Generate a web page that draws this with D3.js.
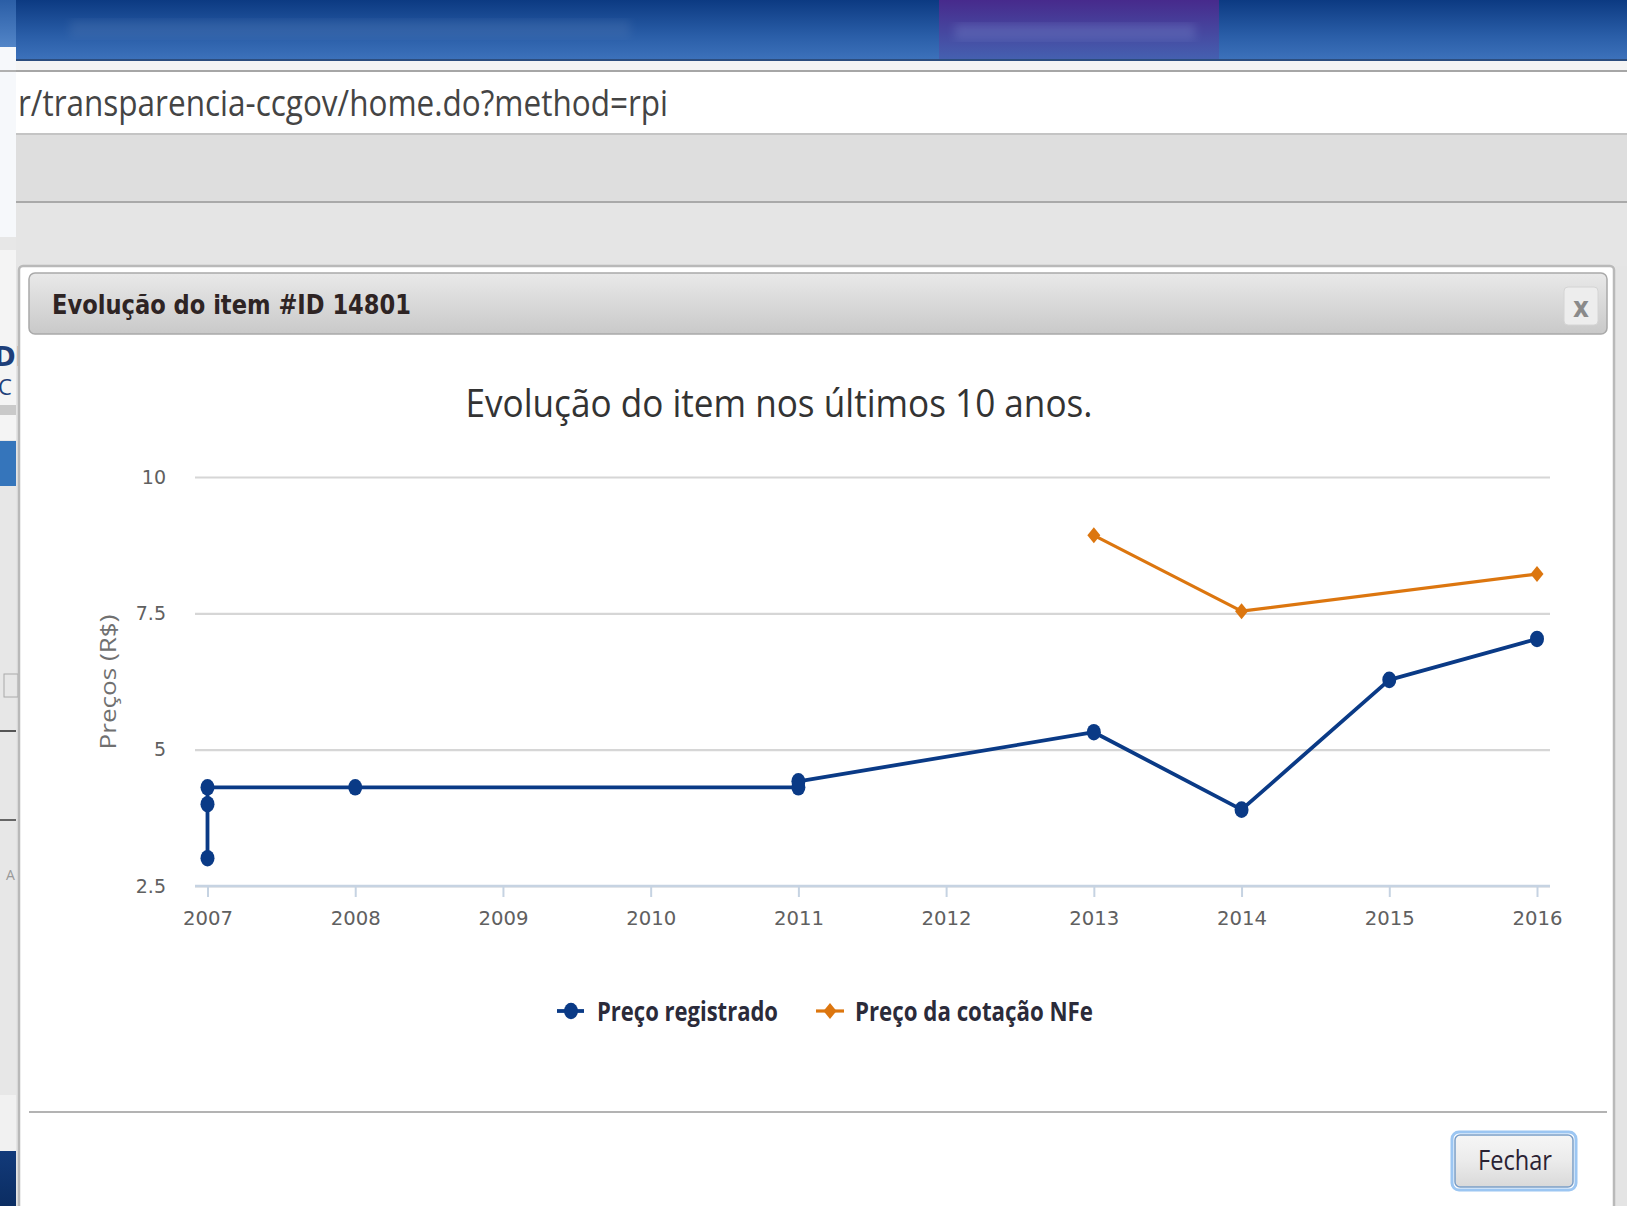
<!DOCTYPE html>
<html lang="pt">
<head>
<meta charset="UTF-8">
<title>Evolução do item</title>
<script src="https://d3js.org/d3.v7.min.js"></script>
<style>
    body { margin: 0; padding: 0; background: #e4e4e4; }
    svg { display: block; }
    .axis text { font-family: "DejaVu Sans", Verdana, sans-serif; fill: #606060; }
</style>
</head>
<body>
<div id="page"></div>
<script>
// ---- data ----
const years = [2007, 2008, 2009, 2010, 2011, 2012, 2013, 2014, 2015, 2016];
const yTicks = [2.5, 5, 7.5, 10];
const registradoAno = [2007, 2007, 2007, 2008, 2011, 2011, 2013, 2014, 2015, 2016];
const registradoPreco = [3.01, 4.0, 4.31, 4.31, 4.31, 4.42, 5.32, 3.9, 6.28, 7.03];
const cotacaoAno = [2013, 2014, 2016];
const cotacaoPreco = [8.93, 7.54, 8.22];
const seriesNames = ["Preço registrado", "Preço da cotação NFe"];
const seriesColors = ["#0a3a86", "#dc760f"];

const W = 1627, H = 1206;
const svg = d3.select('#page').append('svg').attr('width', W).attr('height', H);
const defs = svg.append('defs');

function grad(id, stops) {
    const g = defs.append('linearGradient').attr('id', id)
        .attr('x1', 0).attr('y1', 0).attr('x2', 0).attr('y2', 1);
    stops.forEach(s => g.append('stop').attr('offset', s[0]).attr('stop-color', s[1]));
}
grad('gTop', [[0, '#0c3a82'], [0.6, '#2a5ea8'], [1, '#3d72bb']]);
grad('gTab', [[0, '#472a8c'], [1, '#4560b0']]);
grad('gLeftTop', [[0, '#2b5ea6'], [1, '#5285c8']]);
grad('gBar', [[0, '#e9e9e9'], [1, '#c9c9c9']]);
grad('gBtn', [[0, '#f6f6f6'], [0.5, '#ebebeb'], [1, '#d9d9d9']]);
grad('gBottom', [[0, '#123a7a'], [1, '#0b2d62']]);
defs.append('filter').attr('id', 'blur').append('feGaussianBlur').attr('stdDeviation', 5);

// squeezed text helper (the screenshot is narrower than normal fonts)
function text(g, x, y, str, size, len, opts = {}) {
    const t = g.append('text')
        .attr('x', x).attr('y', y)
        .attr('font-family', opts.family || '"Open Sans", sans-serif')
        .attr('font-size', size)
        .attr('font-weight', opts.weight || 'normal')
        .attr('fill', opts.fill || '#333')
        .attr('text-anchor', opts.anchor || 'start')
        .text(str);
    if (len) t.attr('textLength', len).attr('lengthAdjust', 'spacingAndGlyphs');
    return t;
}

// ---- browser chrome ----
svg.append('rect').attr('x', 0).attr('y', 0).attr('width', W).attr('height', H).attr('fill', '#e4e4e4');
svg.append('rect').attr('x', 16).attr('y', 0).attr('width', W - 16).attr('height', 60).attr('fill', 'url(#gTop)');
svg.append('rect').attr('x', 939).attr('y', 0).attr('width', 280).attr('height', 59).attr('fill', 'url(#gTab)');
svg.append('rect').attr('x', 70).attr('y', 20).attr('width', 560).attr('height', 18).attr('fill', '#5b7fb5')
    .attr('opacity', 0.25).attr('filter', 'url(#blur)');
svg.append('rect').attr('x', 955).attr('y', 24).attr('width', 240).attr('height', 16).attr('fill', '#7f8fd0')
    .attr('opacity', 0.3).attr('filter', 'url(#blur)');
svg.append('rect').attr('x', 16).attr('y', 59).attr('width', W).attr('height', 2).attr('fill', '#2c4d7e');
svg.append('rect').attr('x', 16).attr('y', 61).attr('width', W).attr('height', 9).attr('fill', '#f4f4f4');
svg.append('rect').attr('x', 16).attr('y', 70).attr('width', W).attr('height', 2).attr('fill', '#a6a6a6');
svg.append('rect').attr('x', 16).attr('y', 72).attr('width', W).attr('height', 61).attr('fill', '#ffffff');
text(svg, 18, 116, 'r/transparencia-ccgov/home.do?method=rpi', 36, 650, { fill: '#444' });
svg.append('rect').attr('x', 16).attr('y', 133).attr('width', W).attr('height', 2).attr('fill', '#c4c4c4');
svg.append('rect').attr('x', 16).attr('y', 135).attr('width', W).attr('height', 66).attr('fill', '#dedede');
svg.append('rect').attr('x', 16).attr('y', 201).attr('width', W).attr('height', 2).attr('fill', '#a9a9a9');
svg.append('rect').attr('x', 16).attr('y', 203).attr('width', W).attr('height', 63).attr('fill', '#e5e5e5');

// left strip (other window showing through)
const left = svg.append('g');
left.append('rect').attr('x', 0).attr('y', 0).attr('width', 16).attr('height', 47).attr('fill', 'url(#gLeftTop)');
left.append('rect').attr('x', 0).attr('y', 47).attr('width', 16).attr('height', 190).attr('fill', '#f6f8fb');
left.append('rect').attr('x', 0).attr('y', 70).attr('width', 16).attr('height', 2).attr('fill', '#b0b0b0');
left.append('rect').attr('x', 0).attr('y', 237).attr('width', 16).attr('height', 858).attr('fill', '#e7e7e7');
left.append('rect').attr('x', 0).attr('y', 250).attr('width', 16).attr('height', 190).attr('fill', '#f4f4f4');
text(left, -6, 366, 'DI', 26, null, { weight: 'bold', fill: '#1d3f7a', family: '"DejaVu Sans", sans-serif' });
text(left, -2, 395, 'C', 22, null, { fill: '#1d3f7a' });
left.append('rect').attr('x', 0).attr('y', 405).attr('width', 16).attr('height', 10).attr('fill', '#c9c9c9');
left.append('rect').attr('x', 0).attr('y', 441).attr('width', 16).attr('height', 45).attr('fill', '#3575bb');
left.append('rect').attr('x', 4).attr('y', 674).attr('width', 14).attr('height', 23).attr('fill', 'none').attr('stroke', '#aaa');
left.append('rect').attr('x', 0).attr('y', 730).attr('width', 16).attr('height', 2).attr('fill', '#555');
left.append('rect').attr('x', 0).attr('y', 819).attr('width', 16).attr('height', 2).attr('fill', '#666');
text(left, 6, 880, 'A', 14, null, { fill: '#999' });
left.append('rect').attr('x', 0).attr('y', 1095).attr('width', 16).attr('height', 56).attr('fill', '#f1f1f1');
left.append('rect').attr('x', 0).attr('y', 1151).attr('width', 16).attr('height', 55).attr('fill', 'url(#gBottom)');

// ---- dialog ----
svg.append('rect').attr('x', 19).attr('y', 266).attr('width', 1595).attr('height', 960).attr('rx', 4)
    .attr('fill', '#ffffff').attr('stroke', '#b9b9b9').attr('stroke-width', 2.5);
svg.append('rect').attr('x', 29).attr('y', 273).attr('width', 1578).attr('height', 61).attr('rx', 6)
    .attr('fill', 'url(#gBar)').attr('stroke', '#a9a9a9').attr('stroke-width', 1.5);
text(svg, 52, 314, 'Evolução do item #ID 14801', 26, 359,
    { weight: 'bold', fill: '#2e2424', family: '"DejaVu Sans", Verdana, sans-serif' });
svg.append('rect').attr('x', 1564).attr('y', 287).attr('width', 34).attr('height', 38).attr('rx', 4)
    .attr('fill', '#ededed').attr('stroke', '#d4d4d4');
text(svg, 1581, 317, 'x', 28, 16, { anchor: 'middle', weight: 'bold', fill: '#8a8a8a', family: '"DejaVu Sans", sans-serif' });

svg.append('rect').attr('x', 29).attr('y', 1111).attr('width', 1578).attr('height', 2).attr('fill', '#b3b3b3');
svg.append('rect').attr('x', 1452).attr('y', 1132).attr('width', 124).attr('height', 58).attr('rx', 7)
    .attr('fill', 'none').attr('stroke', '#9cc6f2').attr('stroke-width', 3);
svg.append('rect').attr('x', 1455).attr('y', 1135).attr('width', 118).attr('height', 52).attr('rx', 5)
    .attr('fill', 'url(#gBtn)').attr('stroke', '#7a9ec8').attr('stroke-width', 1.5);
text(svg, 1515, 1170, 'Fechar', 27, 74, { anchor: 'middle', fill: '#2a2233' });

// ---- chart ----
text(svg, 779, 417, 'Evolução do item nos últimos 10 anos.', 38, 627, { anchor: 'middle', fill: '#333' });

const x = d3.scaleLinear().domain([2007, 2016]).range([207.5, 1537]);
const y = d3.scaleLinear().domain([2.5, 10]).range([886, 477]);
const plotL = 195, plotR = 1550;

const yAxis = svg.append('g').attr('class', 'axis').attr('transform', `translate(${plotL},0)`)
    .call(d3.axisLeft(y).tickValues(yTicks).tickSize(-(plotR - plotL)).tickPadding(29)
        .tickFormat(d3.format('')));
yAxis.select('.domain').remove();
yAxis.selectAll('line').attr('stroke', '#d6d6d6').attr('stroke-width', 2.2);
yAxis.selectAll('text').attr('font-size', 19);

const xAxis = svg.append('g').attr('class', 'axis').attr('transform', `translate(0,${y(2.5)})`)
    .call(d3.axisBottom(x).tickValues(years).tickFormat(d3.format('d')).tickSize(11).tickPadding(14).tickSizeOuter(0));
xAxis.select('.domain').attr('d', `M${plotL},0H${plotR}`).attr('stroke', '#c6d3e2').attr('stroke-width', 2.5);
xAxis.selectAll('line').attr('stroke', '#c6d3e2').attr('stroke-width', 2);
xAxis.selectAll('text').attr('font-size', 20).attr('textLength', 50).attr('lengthAdjust', 'spacingAndGlyphs');

text(svg, 0, 0, 'Preços (R$)', 21, 135, { anchor: 'middle', fill: '#707070' })
    .attr('transform', 'translate(116,682) rotate(-90)');

const line = d3.line().x(d => x(d[0])).y(d => y(d[1]));
const reg = registradoAno.map((a, i) => [a, registradoPreco[i]]);
const cot = cotacaoAno.map((a, i) => [a, cotacaoPreco[i]]);

svg.append('path').datum(reg).attr('d', line).attr('fill', 'none')
    .attr('stroke', seriesColors[0]).attr('stroke-width', 3.8).attr('stroke-linejoin', 'round');
svg.append('path').datum(cot).attr('d', line).attr('fill', 'none')
    .attr('stroke', seriesColors[1]).attr('stroke-width', 3.2).attr('stroke-linejoin', 'round');

function diamond(cx, cy, rx, ry) {
    return `M${cx},${cy - ry}L${cx + rx},${cy}L${cx},${cy + ry}L${cx - rx},${cy}Z`;
}

svg.append('g').selectAll('ellipse').data(reg).join('ellipse')
    .attr('cx', d => x(d[0])).attr('cy', d => y(d[1]))
    .attr('rx', 7).attr('ry', 8.3).attr('fill', seriesColors[0]);
svg.append('g').selectAll('path').data(cot).join('path')
    .attr('d', d => diamond(x(d[0]), y(d[1]), 6.5, 8)).attr('fill', seriesColors[1]);

// legend
const lg = svg.append('g');
lg.append('line').attr('x1', 557).attr('x2', 584).attr('y1', 1011).attr('y2', 1011)
    .attr('stroke', seriesColors[0]).attr('stroke-width', 3.8);
lg.append('ellipse').attr('cx', 571).attr('cy', 1011).attr('rx', 7).attr('ry', 8.3).attr('fill', seriesColors[0]);
text(lg, 597, 1021, seriesNames[0], 26, 181, { weight: 'bold', fill: '#2b2b3a' });
lg.append('line').attr('x1', 816).attr('x2', 844).attr('y1', 1011).attr('y2', 1011)
    .attr('stroke', seriesColors[1]).attr('stroke-width', 3.2);
lg.append('path').attr('d', diamond(830, 1011, 6.5, 8)).attr('fill', seriesColors[1]);
text(lg, 855, 1021, seriesNames[1], 26, 238, { weight: 'bold', fill: '#2b2b3a' });
</script>
</body>
</html>
